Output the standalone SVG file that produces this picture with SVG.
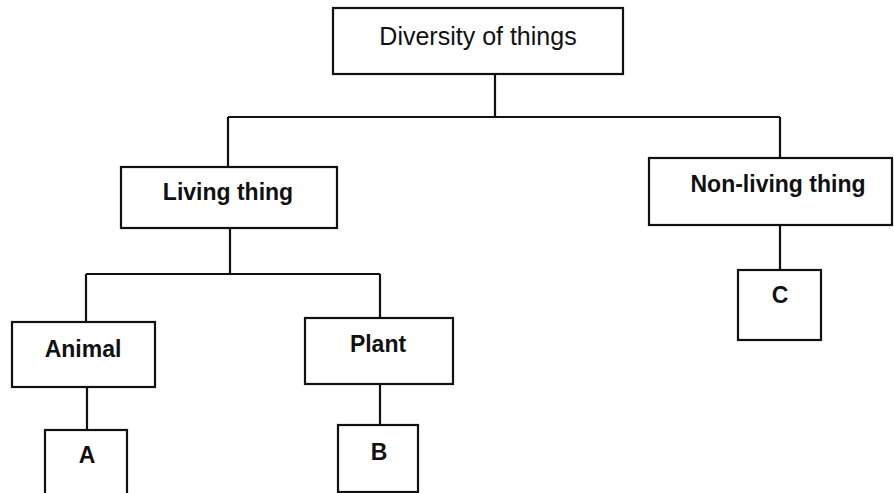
<svg xmlns="http://www.w3.org/2000/svg" width="894" height="493" viewBox="0 0 894 493">
<style>
.box{fill:#fff;stroke:#111;stroke-width:2.2}
.ln{fill:none;stroke:#111;stroke-width:2.2}
text{font-family:"Liberation Sans",Arial,sans-serif;fill:#111;text-anchor:middle}
.t1{font-size:25px}
.t2{font-size:23px;font-weight:bold}
</style>
<rect width="894" height="493" fill="#fff"/>
<g id="connectors">
<path class="ln" d="M495 74V117M228 117H780M228 117V167M780 117V158"/>
<path class="ln" d="M230 228V274M86 274H380M86 274V322M380 274V318"/>
<path class="ln" d="M87 387V430M380 384V425M780 225V270"/>
</g>
<g id="root"><rect class="box" x="333" y="8" width="290" height="66"/><text class="t1" x="478" y="45">Diversity of things</text></g>
<g id="living"><rect class="box" x="121" y="167" width="216" height="61"/><text class="t2" x="228" y="200">Living thing</text></g>
<g id="nonliving"><rect class="box" x="649" y="158" width="243" height="67"/><text class="t2" x="778" y="192">Non-living thing</text></g>
<g id="animal"><rect class="box" x="12" y="322" width="143" height="65"/><text class="t2" x="83" y="357">Animal</text></g>
<g id="plant"><rect class="box" x="305" y="318" width="148" height="66"/><text class="t2" x="378" y="352">Plant</text></g>
<g id="a"><rect class="box" x="45" y="430" width="82" height="70"/><text class="t2" x="87" y="463">A</text></g>
<g id="b"><rect class="box" x="338" y="425" width="80" height="67"/><text class="t2" x="379" y="460">B</text></g>
<g id="c"><rect class="box" x="738" y="270" width="83" height="70"/><text class="t2" x="780" y="303">C</text></g>
</svg>
